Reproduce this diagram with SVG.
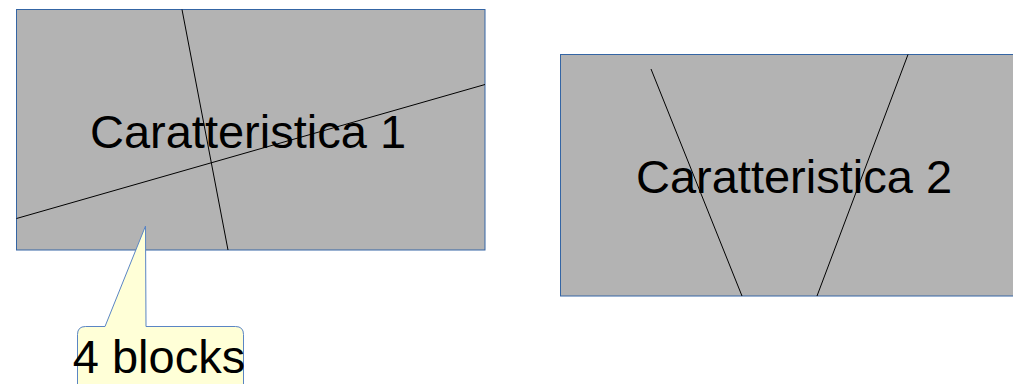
<svg xmlns="http://www.w3.org/2000/svg" width="1013" height="384" viewBox="0 0 1013 384">
<style>
.box{fill:#b3b3b3;stroke:#3465a4;stroke-width:1}
.ln{stroke:#000;stroke-width:1;fill:none}
.lbl{font-family:"Liberation Sans",Arial,sans-serif;font-size:47px;fill:#000}
.call{fill:#ffffd7;stroke:#5a85c4;stroke-width:1}
</style>
<g id="node1">
<rect class="box" x="16.5" y="9.5" width="468.5" height="240.5"/>
<line class="ln" x1="182" y1="9.5" x2="228" y2="250"/>
<line class="ln" x1="16.5" y1="218.5" x2="485" y2="84.5"/>
<text class="lbl" x="248" y="148" text-anchor="middle">Caratteristica 1</text>
</g>
<g id="node2">
<rect class="box" x="560.5" y="54.5" width="470" height="241.5"/>
<line class="ln" x1="651" y1="69" x2="742" y2="296"/>
<line class="ln" x1="908" y1="54.5" x2="817" y2="296"/>
<text class="lbl" x="794" y="193" text-anchor="middle">Caratteristica 2</text>
</g>
<g id="callout">
<path class="call" d="M85.5,326.5 L105,326.5 L145.5,226 L146,326.5 L235.5,326.5 Q243.5,326.5 243.5,334.5 L243.5,400 L77.5,400 L77.5,334.5 Q77.5,326.5 85.5,326.5 Z"/>
<text class="lbl" x="159" y="373" text-anchor="middle">4 blocks</text>
</g>
</svg>
